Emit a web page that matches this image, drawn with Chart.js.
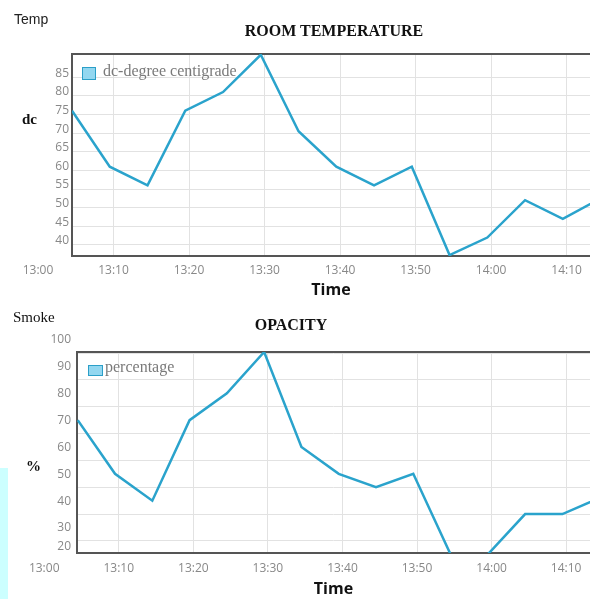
<!DOCTYPE html>
<html>
<head>
<meta charset="utf-8">
<script src="https://cdn.jsdelivr.net/npm/chart.js@4.4.1/dist/chart.umd.min.js"></script>
<style>
body { margin: 0; background: #fff; }
#wrap { position: relative; width: 590px; height: 599px; overflow: hidden; }
.txt { position: absolute; white-space: nowrap; line-height: 1; color: #111; }
.serif { font-family: "Liberation Serif", "Times New Roman", serif; }
.title { font-weight: bold; font-size: 16px; width: 300px; text-align: center; }
.panel { position: absolute; left: 0; width: 590px; }
.legend { position: absolute; font-family: "Liberation Serif", serif; font-size: 16px; color: #7a7a7a; line-height: 1; white-space: nowrap; }
.legend i { position: absolute; left: 0; box-sizing: border-box; background: #93d7f0; border: 1px solid #2b9fc8; }
.legend span { position: absolute; white-space: nowrap; }
.strip { position: absolute; left: 0; top: 468px; width: 8px; height: 131px; background: #ccffff; }
</style>
</head>
<body>
<div id="wrap">
  <div class="panel" style="top:0;height:300px"><canvas id="tempChart"></canvas></div>
  <div class="panel" style="top:300px;height:299px"><canvas id="smokeChart"></canvas></div>

  <div class="txt" style="left:14px;top:12px;font-family:'Liberation Sans',Arial,sans-serif;font-size:14px;color:#222">Temp</div>
  <div class="txt serif title" style="left:184px;top:23px">ROOM TEMPERATURE</div>
  <div class="txt serif" style="left:22px;top:112px;font-size:15px;font-weight:bold">dc</div>
  <div id="tempLegend" class="legend" style="left:82px;top:63px"></div>

  <div class="txt serif" style="left:13px;top:310px;font-size:15px">Smoke</div>
  <div class="txt serif title" style="left:141px;top:317px">OPACITY</div>
  <div class="txt serif" style="left:26px;top:459px;font-size:15px;font-weight:bold">%</div>
  <div id="smokeLegend" class="legend" style="left:88px;top:359px"></div>
  <div class="strip"></div>
</div>

<script>
// Datos (minutos desde las 13:00)
const minutes = [4.5, 9.5, 14.5, 19.5, 24.5, 29.5, 34.5, 39.5, 44.5, 49.5, 54.5, 59.5, 64.5, 69.5, 74.5];
const tempValues = [76, 61, 56, 76, 81, 91, 70.5, 61, 56, 61, 37.3, 42, 52, 47, 52.5];
const smokeValues = [75, 55, 45, 75, 85, 100.4, 65, 55, 50, 55, 25, 25, 40, 40, 46];

// Etiquetas de los ejes
const timeTicks = [0, 10, 20, 30, 40, 50, 60, 70];
const tempTicks = [40, 45, 50, 55, 60, 65, 70, 75, 80, 85];
const smokeTicks = [20, 30, 40, 50, 60, 70, 80, 90, 100];

const lineColor = '#2aa3cc';
const tickFont = { family: '"Open Sans", "Noto Sans", sans-serif', size: 12 };

function timeLabel(v) {
    const h = 13 + Math.floor(v / 60);
    const m = v % 60;
    return h + ':' + String(m).padStart(2, '0');
}

// Marco del área y etiquetas que caen fuera del rango dibujado
const framePlugin = {
    id: 'frame',
    beforeDatasetsDraw(chart) {
        const a = chart.chartArea, ctx = chart.ctx;
        ctx.save();
        ctx.strokeStyle = '#555';
        ctx.lineWidth = 2;
        ctx.strokeRect(a.left, a.top, a.right - a.left + 4, a.bottom - a.top);
        ctx.restore();
    },
    afterDraw(chart, args, opts) {
        const ctx = chart.ctx;
        const x = chart.scales.x, y = chart.scales.y;
        ctx.save();
        ctx.fillStyle = '#888';
        ctx.font = tickFont.size + 'px ' + tickFont.family;
        ctx.textAlign = 'center';
        ctx.textBaseline = 'middle';
        timeTicks.filter(v => v < x.min || v > x.max).forEach(v => {
            ctx.fillText(timeLabel(v), x.getPixelForValue(v), x.top + opts.xPad + 8);
        });
        ctx.textAlign = 'right';
        opts.yTicks.filter(v => v < y.min || v > y.max).forEach(v => {
            ctx.fillText(String(v), y.right - opts.yPad, y.getPixelForValue(v) + opts.yExtraOffset);
        });
        ctx.restore();
    }
};

function createChart(ctx, label, values, yTicks, cfg) {
    return new Chart(ctx, {
        type: 'line',
        data: {
            datasets: [{
                label: label,
                data: minutes.map((m, i) => ({ x: m, y: values[i] })),
                borderColor: lineColor,
                backgroundColor: '#93d7f0',
                borderWidth: 2.5,
                pointRadius: 0,
                tension: 0,
                fill: false
            }]
        },
        options: {
            animation: false,
            responsive: true,
            maintainAspectRatio: false,
            layout: { padding: { top: cfg.top, left: 0, right: 0, bottom: 0 } },
            scales: {
                x: {
                    type: 'linear',
                    min: cfg.xMin,
                    max: cfg.xMax,
                    afterBuildTicks: s => { s.ticks = timeTicks.filter(v => v >= s.min && v <= s.max).map(v => ({ value: v })); },
                    afterFit: s => { s.height = cfg.xHeight; },
                    grid: { color: '#e2e2e2', drawTicks: false },
                    border: { display: false },
                    ticks: { color: '#888', font: tickFont, padding: cfg.xPad, maxRotation: 0, callback: v => timeLabel(v) },
                    title: {
                        display: true,
                        text: 'Time',
                        color: '#111',
                        font: { family: '"Open Sans", "Noto Sans", sans-serif', size: 16, weight: 'bold' },
                        padding: { top: 0, bottom: 0 }
                    }
                },
                y: {
                    min: cfg.yMin,
                    max: cfg.yMax,
                    afterBuildTicks: s => { s.ticks = yTicks.filter(v => v >= s.min && v <= s.max).map(v => ({ value: v })); },
                    afterFit: s => { s.width = cfg.yWidth; },
                    grid: { color: '#e2e2e2', drawTicks: false },
                    border: { display: false },
                    ticks: { color: '#888', font: tickFont, padding: cfg.yPad, labelOffset: cfg.labelOffset }
                }
            },
            plugins: {
                legend: { display: false },
                tooltip: { enabled: false },
                frame: { xPad: cfg.xPad, yPad: cfg.yPad, yTicks: yTicks, yExtraOffset: cfg.yExtraOffset }
            }
        },
        plugins: [framePlugin]
    });
}

function buildLegend(chart, el, box) {
    const ds = chart.data.datasets[0];
    el.innerHTML = '<i style="top:' + box.top + 'px;width:' + box.w + 'px;height:' + box.h + 'px"></i>' +
        '<span style="left:' + box.textLeft + 'px;top:0">' + ds.label + '</span>';
}

var tempChart = createChart(document.getElementById('tempChart').getContext('2d'),
    'dc-degree centigrade', tempValues, tempTicks,
    { top: 54, xMin: 4.5, xMax: 73.1, yMin: 37.05, yMax: 91.2, xHeight: 44, yWidth: 72, xPad: 7, yPad: 3, labelOffset: -4, yExtraOffset: -4 });

var smokeChart = createChart(document.getElementById('smokeChart').getContext('2d'),
    'percentage', smokeValues, smokeTicks,
    { top: 52, xMin: 4.4, xMax: 73.2, yMin: 25.5, yMax: 100.4, xHeight: 46, yWidth: 77, xPad: 8, yPad: 6, labelOffset: -13, yExtraOffset: -21 });

buildLegend(tempChart, document.getElementById('tempLegend'), { top: 4, w: 14, h: 13, textLeft: 21 });
buildLegend(smokeChart, document.getElementById('smokeLegend'), { top: 6, w: 15, h: 11, textLeft: 17 });
</script>
</body>
</html>
